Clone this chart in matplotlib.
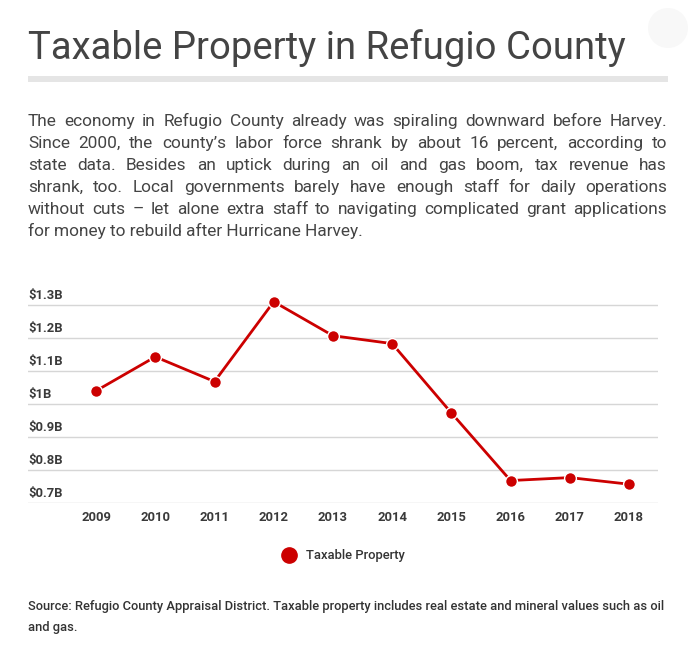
import matplotlib
matplotlib.use("Agg")
import matplotlib.pyplot as plt
from matplotlib.patches import Ellipse, Rectangle
from matplotlib.lines import Line2D
import matplotlib.transforms as mtransforms

# ---- data ----
years = [2009, 2010, 2011, 2012, 2013, 2014, 2015, 2016, 2017, 2018]
values = [1.040, 1.143, 1.068, 1.310, 1.207, 1.183, 0.973, 0.768, 0.777, 0.757]  # $ billions
ytick_vals = [0.7, 0.8, 0.9, 1.0, 1.1, 1.2, 1.3]
ytick_labels = ["$0.7B", "$0.8B", "$0.9B", "$1B", "$1.1B", "$1.2B", "$1.3B"]
series_name = "Taxable Property"
title = "Taxable Property in Refugio County"
paragraph_lines = [
    "The economy in Refugio County already was spiraling downward before Harvey.",
    "Since 2000, the county\u2019s labor force shrank by about 16 percent, according to",
    "state data. Besides an uptick during an oil and gas boom, tax revenue has",
    "shrank, too. Local governments barely have enough staff for daily operations",
    "without cuts \u2013 let alone extra staff to navigating complicated grant applications",
    "for money to rebuild after Hurricane Harvey.",
]
source_lines = [
    "Source: Refugio County Appraisal District. Taxable property includes real estate and mineral values such as oil",
    "and gas.",
]

W, H = 695, 660
plt.rcParams['font.family'] = ['Roboto', 'DejaVu Sans']
fig = plt.figure(figsize=(W / 100, H / 100), dpi=100)
fig.patch.set_facecolor("white")
renderer = fig.canvas.get_renderer()

def fx(px):
    return px / W

def fy(py):
    return 1 - py / H

TEXT = "#444444"
RED = "#cc0000"

# faint circle top right
fig.patches.append(Ellipse((fx(668), fy(28)), 40 / W, 40 / H, transform=fig.transFigure,
                           facecolor="#f8f8f8", edgecolor="none"))

# title, sized to the reference width
t_fs = 28.0
tt = fig.text(fx(28), fy(59), title, fontsize=t_fs, fontweight="normal", color=TEXT,
              ha="left", va="baseline")
tw = tt.get_window_extent(renderer).width
tt.set_fontsize(t_fs * 597 / tw)

# gray rule
fig.patches.append(Rectangle((fx(28), fy(82)), fx(668) - fx(28), 6 / H,
                             transform=fig.transFigure, facecolor="#e5e5e5", edgecolor="none"))

# justified paragraph
left_px, right_px = 28, 667
para_fs = 12.4
base0 = 126
lh = 22
for i, line in enumerate(paragraph_lines):
    yb = fy(base0 + i * lh)
    words = line.split(" ")
    if i == len(paragraph_lines) - 1:
        fig.text(fx(left_px), yb, line, fontsize=para_fs, color=TEXT, ha="left", va="baseline")
        continue
    texts = []
    widths = []
    for w in words:
        t = fig.text(0, yb, w, fontsize=para_fs, color=TEXT, ha="left", va="baseline")
        widths.append(t.get_window_extent(renderer).width)
        texts.append(t)
    gap = (right_px - left_px - sum(widths)) / (len(words) - 1)
    x = left_px
    for t, wdt in zip(texts, widths):
        t.set_x(fx(x))
        x += wdt + gap

# chart axes
y_lo, y_hi = 0.7, 1.33
ax_top_px = 503 - (y_hi - y_lo) * 330
ax = fig.add_axes([fx(28), fy(503), fx(658) - fx(28), (503 - ax_top_px) / H])
ax.set_xlim(years[0] - 1.15, years[-1] + 0.49)
ax.set_ylim(y_lo, y_hi)
for s in ax.spines.values():
    s.set_visible(False)
ax.set_yticks(ytick_vals)
ax.set_yticklabels([])
ax.tick_params(axis="y", length=0)
ax.grid(axis="y", color="#d6d6d6", linewidth=1)
ax.set_axisbelow(True)
ax.set_xticks(years)
ax.set_xticklabels([str(y) for y in years], fontsize=9.4, fontweight="bold", color="#3a3a3a")
ax.tick_params(axis="x", length=0, pad=6)

trans = mtransforms.blended_transform_factory(ax.transAxes, ax.transData)
offset = mtransforms.offset_copy(trans, fig=fig, x=0, y=3, units="dots")
for v, lab in zip(ytick_vals, ytick_labels):
    ax.text(0, v, lab, transform=offset, fontsize=9.4, fontweight="bold", color="#3a3a3a",
            ha="left", va="bottom")

ax.plot(years, values, color=RED, linewidth=2, marker="o", markersize=8.5,
        markerfacecolor=RED, markeredgecolor="white", markeredgewidth=1, clip_on=False, zorder=3)

# legend
fig.lines.append(Line2D([fx(289)], [fy(555)], transform=fig.transFigure, marker="o",
                        markersize=11, color=RED, linestyle="none"))
fig.text(fx(306), fy(555), series_name, fontsize=9.4, fontweight="medium", color="#333333",
         ha="left", va="center")

# source
for i, line in enumerate(source_lines):
    fig.text(fx(28), fy(610 + i * 21), line, fontsize=9.3, fontweight="medium", color="#333333",
             ha="left", va="baseline")

fig.savefig("out.png", dpi=100, facecolor="white")
